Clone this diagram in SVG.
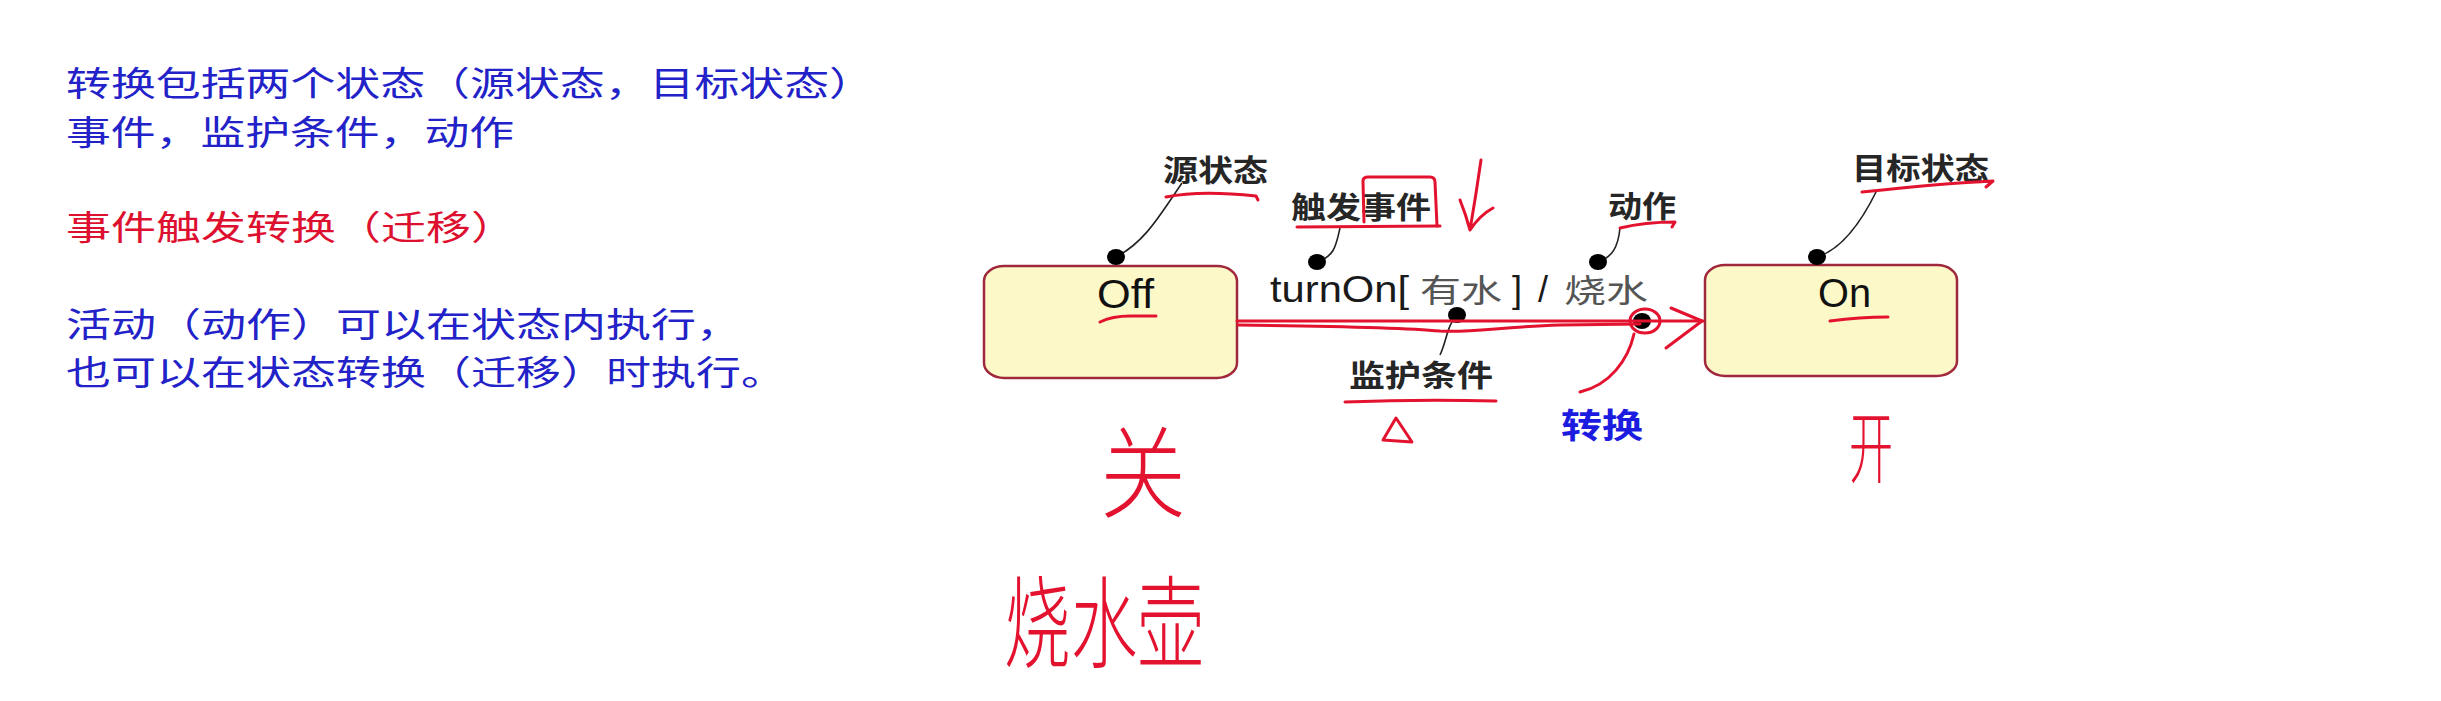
<svg xmlns="http://www.w3.org/2000/svg" width="2441" height="701" viewBox="0 0 2441 701">
<style>
.note{font-family:"Noto Sans CJK SC","Noto Sans",sans-serif;font-size:34px;fill:#2222c8}
.note.red{fill:#dd1030}
.lbl{font-family:"Noto Sans CJK SC",sans-serif;font-size:30px;font-weight:600;fill:#262626}
.state{font-family:"Liberation Sans",Arial,sans-serif;font-size:40px;fill:#111}
.box{fill:#fdf8c8;stroke:#a0283c;stroke-width:2.5}
.trig{font-family:"Liberation Sans",Arial,sans-serif;font-size:36px;fill:#1a1a1a}
.cjk{font-family:"Noto Sans CJK SC",sans-serif;font-size:32px;fill:#555}
.call{fill:none;stroke:#222;stroke-width:1.6}
.dot{fill:#000}
.pen{fill:none;stroke:#e3122f;stroke-width:3;stroke-linecap:round;stroke-linejoin:round}
.hand{font-family:"Noto Sans CJK SC",sans-serif;font-weight:300;fill:#e3122f}
.blue{font-family:"Noto Sans CJK SC",sans-serif;font-size:34px;font-weight:700;fill:#1c1ce0}
</style>
<rect width="2441" height="701" fill="#ffffff"/>

<g id="notes">
<text class="note" x="66" y="96" textLength="808" lengthAdjust="spacingAndGlyphs">转换包括两个状态（源状态，目标状态）</text>
<text class="note" x="66" y="145" textLength="448" lengthAdjust="spacingAndGlyphs">事件，监护条件，动作</text>
<text class="note red" x="66" y="240" textLength="450" lengthAdjust="spacingAndGlyphs">事件触发转换（迁移）</text>
<text class="note" x="66" y="337" textLength="675" lengthAdjust="spacingAndGlyphs">活动（动作）可以在状态内执行，</text>
<text class="note" x="66" y="385" textLength="720" lengthAdjust="spacingAndGlyphs">也可以在状态转换（迁移）时执行。</text>
</g>

<g id="node-off">
<rect class="box" x="984" y="266" width="253" height="112" rx="20" ry="15"/>
<text class="state" x="1097" y="308" textLength="57" lengthAdjust="spacingAndGlyphs">Off</text>
</g>

<g id="node-on">
<rect class="box" x="1705" y="265" width="252" height="111" rx="20" ry="15"/>
<text class="state" x="1818" y="307" textLength="53" lengthAdjust="spacingAndGlyphs">On</text>
</g>

<g id="label-source"><text class="lbl" x="1163" y="181" textLength="105" lengthAdjust="spacingAndGlyphs">源状态</text></g>
<g id="label-event"><text class="lbl" x="1291" y="218" textLength="140" lengthAdjust="spacingAndGlyphs">触发事件</text></g>
<g id="label-action"><text class="lbl" x="1608" y="217" textLength="68" lengthAdjust="spacingAndGlyphs">动作</text></g>
<g id="label-guard"><text class="lbl" x="1349" y="386" textLength="144" lengthAdjust="spacingAndGlyphs">监护条件</text></g>
<g id="label-target"><text class="lbl" x="1852" y="179" textLength="137" lengthAdjust="spacingAndGlyphs">目标状态</text></g>
<g id="label-transition"><text class="blue" x="1561" y="438" textLength="82" lengthAdjust="spacingAndGlyphs">转换</text></g>

<g id="transition-label">
<text class="trig" x="1270" y="302" textLength="139" lengthAdjust="spacingAndGlyphs">turnOn[</text>
<text class="cjk" x="1420" y="302" textLength="82" lengthAdjust="spacingAndGlyphs">有水</text>
<text class="trig" x="1512" y="302" fill="#444">]</text>
<text class="trig" x="1538" y="302" fill="#444">/</text>
<text class="cjk" x="1564" y="302" textLength="84" lengthAdjust="spacingAndGlyphs">烧水</text>
</g>

<g id="connectors">
<line x1="1237" y1="321" x2="1703" y2="321" stroke="#222" stroke-width="1.5"/>
<path class="call" d="M1116,257 C1145,242 1160,215 1182,183"/>
<path class="call" d="M1317,262 C1335,256 1336,245 1340,228"/>
<path class="call" d="M1598,262 C1612,257 1618,248 1620,228"/>
<path class="call" d="M1457,315 C1447,325 1447,340 1440,355"/>
<path class="call" d="M1817,257 C1840,250 1860,225 1877,190"/>
<ellipse class="dot" cx="1116" cy="257" rx="9" ry="8"/>
<ellipse class="dot" cx="1317" cy="262" rx="9" ry="8"/>
<ellipse class="dot" cx="1598" cy="262" rx="9" ry="8"/>
<ellipse class="dot" cx="1457" cy="315" rx="9" ry="8"/>
<ellipse class="dot" cx="1642" cy="321" rx="9" ry="8"/>
<ellipse class="dot" cx="1817" cy="257" rx="9" ry="8"/>
</g>

<g id="annotations">
<path class="pen" d="M1237,321 L1703,321" stroke-width="4"/>
<path class="pen" d="M1238,325 C1330,326 1400,327 1440,331 C1470,333 1500,327 1560,325 L1640,324"/>
<ellipse class="pen" cx="1645" cy="321" rx="15" ry="12"/>
<path class="pen" d="M1634,334 C1628,360 1610,385 1580,392"/>
<path class="pen" d="M1671,308 L1702,321 L1666,348"/>
<path class="pen" d="M1166,197 Q1200,190 1256,196 L1258,200"/>
<path class="pen" d="M1297,227 L1440,226"/>
<path class="pen" d="M1364,222 L1363,181 Q1363,177 1368,177 L1430,177 Q1435,177 1435,182 L1437,226"/>
<path class="pen" d="M1481,160 Q1476,195 1470,230 M1460,200 Q1466,215 1470,230 Q1480,215 1493,208"/>
<path class="pen" d="M1620,228 Q1645,222 1675,222 L1672,227"/>
<path class="pen" d="M1862,192 C1900,188 1950,183 1993,181 L1986,187"/>
<path class="pen" d="M1100,322 Q1112,316 1130,316 L1156,316"/>
<path class="pen" d="M1830,321 Q1860,317 1888,317"/>
<path class="pen" d="M1345,402 Q1420,399 1496,401"/>
<path class="pen" d="M1396,418 L1383,440 L1412,442 Z"/>
<text class="hand" x="1100" y="510" font-size="100" textLength="86" lengthAdjust="spacingAndGlyphs">关</text>
<text class="hand" x="1004" y="660" font-size="100" textLength="200" lengthAdjust="spacingAndGlyphs">烧水壶</text>
<text class="hand" x="1849" y="477" font-size="78" textLength="44" lengthAdjust="spacingAndGlyphs">开</text>
</g>
</svg>
